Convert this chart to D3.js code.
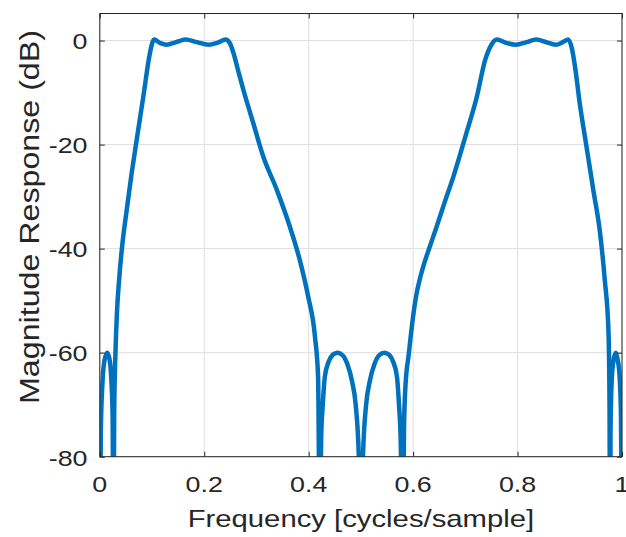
<!DOCTYPE html>
<html lang="en">
<head>
  <meta charset="UTF-8" />
  <title>Magnitude Response</title>
  <script src="https://d3js.org/d3.v7.min.js"></script>
  <style>
    body { margin: 0; background: #fff; }
    svg { display: block; font-family: "Liberation Sans", Arial, sans-serif; }
  </style>
</head>
<body>
  <svg id="chart" width="626" height="537"></svg>
  <script>
    // frequency (cycles/sample) and magnitude (dB); nulls go off the bottom and get clipped
    const freq = [
      0.000, 0.002, 0.005, 0.009, 0.0144, 0.019, 0.022, 0.0245, 0.0262,
      0.0275, 0.030, 0.033, 0.037, 0.042, 0.0515, 0.061, 0.0706, 0.0833, 0.096, 0.101, 0.104,
      0.116, 0.128, 0.146, 0.164, 0.186, 0.208, 0.226, 0.241,
      0.249, 0.256, 0.265, 0.275, 0.294, 0.313, 0.339, 0.364, 0.383, 0.399, 0.412, 0.418, 0.4215,
      0.424, 0.427, 0.431, 0.438, 0.446, 0.455, 0.465, 0.474, 0.483, 0.490, 0.496, 0.500,
      0.504, 0.510, 0.517, 0.526, 0.535, 0.545, 0.554, 0.562, 0.569, 0.573, 0.576, 0.5805,
      0.5825, 0.585, 0.592, 0.600, 0.606, 0.613, 0.622, 0.632, 0.645, 0.660, 0.677, 0.702, 0.722, 0.738, 0.750, 0.760,
      0.780, 0.797, 0.817, 0.836, 0.855, 0.873, 0.887, 0.897,
      0.904, 0.910, 0.919, 0.932, 0.945, 0.958, 0.967, 0.974, 0.976, 0.9774,
      0.978, 0.980, 0.983, 0.988, 0.992, 0.995, 0.998, 1.000
    ];
    const magDb = [
      -100, -75, -66, -61.5, -60, -61.5, -65, -72, -100,
      -72, -60, -52, -46, -40.3, -32.6, -25.5, -19.1, -10.8, -2.4, -0.3, 0.2,
      -0.5, -0.8, -0.3, 0.2, -0.3, -0.8, -0.4, 0.2,
      -0.5, -2.4, -5.8, -9.5, -15.9, -22.3, -28.7, -35.8, -42.2, -49.2, -56.9, -64.6, -100,
      -76, -70, -64.6, -61.8, -60.4, -60, -60.5, -62.2, -65.5, -70, -80, -100,
      -80, -70, -65.5, -62.2, -60.5, -60, -60.4, -61.8, -64.6, -70, -76, -100,
      -75, -67, -60, -53, -49, -45.8, -42.6, -39.6, -35.8, -31.2, -26.2, -17.8, -10.8, -3.7, -0.8, 0.2,
      -0.5, -0.8, -0.3, 0.2, -0.3, -0.8, -0.3, 0.2,
      -1.5, -5, -12, -20.4, -28.7, -37, -46, -55.6, -68.5, -100,
      -75, -66, -62, -60, -61.5, -64, -72, -100
    ];
    const xTicks = [0, 0.2, 0.4, 0.6, 0.8, 1];
    const yTicks = [-80, -60, -40, -20, 0];
    const xTickLabels = ["0", "0.2", "0.4", "0.6", "0.8", "1"];
    const yTickLabels = ["-80", "-60", "-40", "-20", "0"];

    const plotLeft = 99.8, plotRight = 622, plotTop = 13.5, plotBottom = 456.7;
    const textStretch = 1.22;   // the reference type is wider than Arial
    const axisColor = "#262626";
    const tickLen = 5;
    const svg = d3.select("#chart");

    const x = d3.scaleLinear().domain([0, 1]).range([plotLeft, plotRight]);
    const y = d3.scaleLinear().domain([-80, 5.2]).range([plotBottom, plotTop]);

    // grid
    const grid = svg.append("g").attr("stroke", "#dfdfdf").attr("stroke-width", 1);
    grid.selectAll("line.gx").data(xTicks).enter().append("line")
        .attr("x1", d => x(d)).attr("x2", d => x(d))
        .attr("y1", plotTop).attr("y2", plotBottom);
    grid.selectAll("line.gy").data(yTicks).enter().append("line")
        .attr("x1", plotLeft).attr("x2", plotRight)
        .attr("y1", d => y(d)).attr("y2", d => y(d));

    // curve, clipped to the axes box
    svg.append("clipPath").attr("id", "plotClip")
       .append("rect").attr("x", plotLeft).attr("y", plotTop)
       .attr("width", plotRight - plotLeft).attr("height", plotBottom - plotTop);

    const pts = freq.map((f, i) => [f, magDb[i]]);
    const line = d3.line()
        .x(d => x(d[0])).y(d => y(d[1]))
        .curve(d3.curveMonotoneX);

    svg.append("path")
       .datum(pts)
       .attr("clip-path", "url(#plotClip)")
       .attr("fill", "none")
       .attr("stroke", "#0072BD")
       .attr("stroke-width", 4.5)
       .attr("stroke-linejoin", "round")
       .attr("d", line);

    // box with inward ticks on all sides (labels drawn separately)
    const noLabels = a => a.tickSizeInner(-tickLen).tickSizeOuter(0).tickFormat("");
    const styleAxis = g => {
      g.select(".domain").remove();
      g.selectAll("line").attr("stroke", axisColor);
    };
    svg.append("g").attr("transform", `translate(0,${plotBottom})`)
       .call(noLabels(d3.axisBottom(x).tickValues(xTicks))).call(styleAxis);
    svg.append("g").attr("transform", `translate(0,${plotTop})`)
       .call(noLabels(d3.axisTop(x).tickValues(xTicks))).call(styleAxis);
    svg.append("g").attr("transform", `translate(${plotLeft},0)`)
       .call(noLabels(d3.axisLeft(y).tickValues(yTicks))).call(styleAxis);
    svg.append("g").attr("transform", `translate(${plotRight},0)`)
       .call(noLabels(d3.axisRight(y).tickValues(yTicks))).call(styleAxis);

    svg.append("rect")
       .attr("x", plotLeft).attr("y", plotTop)
       .attr("width", plotRight - plotLeft).attr("height", plotBottom - plotTop)
       .attr("fill", "none").attr("stroke", axisColor).attr("stroke-width", 1);

    // tick labels
    svg.append("g").selectAll("text").data(xTicks).enter().append("text")
       .attr("transform", d => `translate(${x(d)},491.7) scale(${textStretch},1)`)
       .attr("text-anchor", "middle")
       .attr("font-size", 22).attr("fill", axisColor)
       .text((d, i) => xTickLabels[i]);
    svg.append("g").selectAll("text").data(yTicks).enter().append("text")
       .attr("transform", d => `translate(87.5,${y(d) + 8.8}) scale(${textStretch},1)`)
       .attr("text-anchor", "end")
       .attr("font-size", 22).attr("fill", axisColor)
       .text((d, i) => yTickLabels[i]);

    // axis labels
    svg.append("text")
       .attr("transform", `translate(${(plotLeft + plotRight) / 2},527) scale(${textStretch},1)`)
       .attr("text-anchor", "middle")
       .attr("font-size", 24).attr("fill", axisColor)
       .text("Frequency [cycles/sample]");
    svg.append("text")
       .attr("transform", `translate(38.5,217) rotate(-90) scale(1.15,1)`)
       .attr("text-anchor", "middle")
       .attr("font-size", 28).attr("fill", axisColor)
       .text("Magnitude Response (dB)");
  </script>
</body>
</html>
